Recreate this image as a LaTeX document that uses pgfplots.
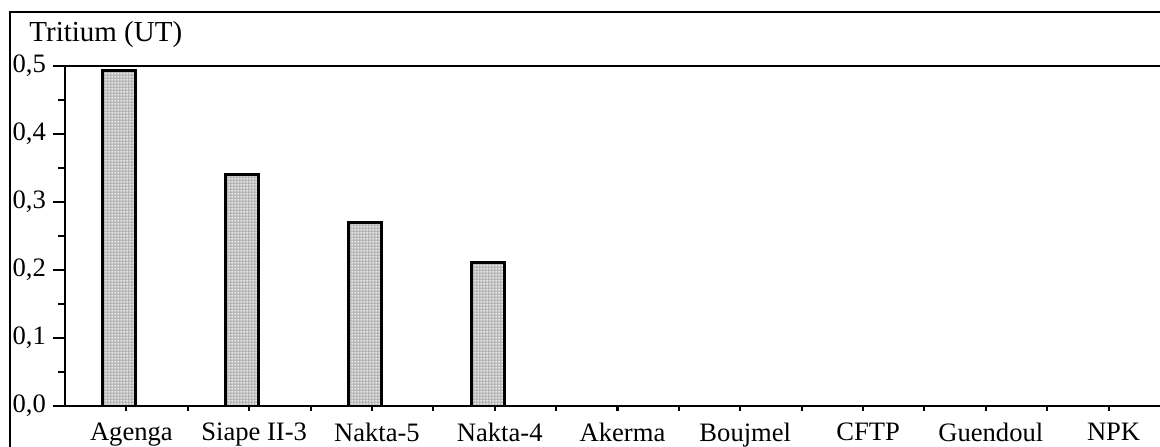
\documentclass[border=0pt]{standalone}
\usepackage{fontspec}
\setmainfont{Liberation Serif}
\usepackage{pgfplots}
\pgfplotsset{compat=1.18}
\usetikzlibrary{patterns.meta}
\pgfdeclarepattern{name=mygrid, parameters={}, bottom left={\pgfpoint{0pt}{0pt}}, top right={\pgfpoint{1.5pt}{1.5pt}}, tile size={\pgfpoint{1.5pt}{1.5pt}}, code={\pgfsetlinewidth{0.35pt}\pgfpathmoveto{\pgfpoint{0pt}{0.75pt}}\pgfpathlineto{\pgfpoint{1.5pt}{0.75pt}}\pgfpathmoveto{\pgfpoint{0.75pt}{0pt}}\pgfpathlineto{\pgfpoint{0.75pt}{1.5pt}}\pgfusepath{stroke}}}
\begin{document}
\fontsize{13}{15}\selectfont
\begin{tikzpicture}
\useasboundingbox (0,0) rectangle (580pt,223pt);
\fill[white] (0,0) rectangle (580pt,223pt);
\draw[line width=1pt] (5pt,-20pt) -- (5pt,217pt) -- (600pt,217pt);
\node[anchor=west, font=\fontsize{14.5}{16}\selectfont, inner sep=0pt] at (14.5pt,205.5pt) {Tritium (UT)};
\begin{axis}[
  at={(32.5pt,20pt)}, anchor=south west,
  scale only axis, width=552.5pt, height=170pt,
  xmin=-0.5, xmax=8.5, ymin=0, ymax=0.5,
  axis line style={line width=1pt},
  tick align=outside, xtick pos=bottom, ytick pos=left,
  ytick={0,0.1,...,0.5}, minor y tick num=1,
  major tick length=6pt, minor tick length=3.5pt,
  tick style={line width=1pt, black},
  xtick={0.5,1.5,...,7.5}, xticklabels={},
  x tick style={/pgfplots/major tick length=2.5pt},
  extra x ticks={0,1,2,3,4,5,6,7,8},
  extra x tick labels={Agenga, Siape II-3, Nakta-5, Nakta-4, Akerma, Boujmel, CFTP, Guendoul, NPK},
  extra x tick style={major tick length=0pt, xticklabel style={yshift=-4pt, xshift=2.5pt}},
  yticklabel style={xshift=1pt, /pgf/number format/.cd, use comma, fixed, fixed zerofill, precision=1, assume math mode=true},
  ticklabel style={font=\fontsize{13.3}{15}\selectfont},
]
\addplot[ybar, bar width=16.5pt, bar shift=-3.5pt, fill=gray!60, draw=black, line width=1.5pt,
  postaction={pattern={mygrid}, pattern color=white}]
  coordinates {(0,0.493) (1,0.341) (2,0.270) (3,0.211)};
\end{axis}
\end{tikzpicture}
\end{document}
